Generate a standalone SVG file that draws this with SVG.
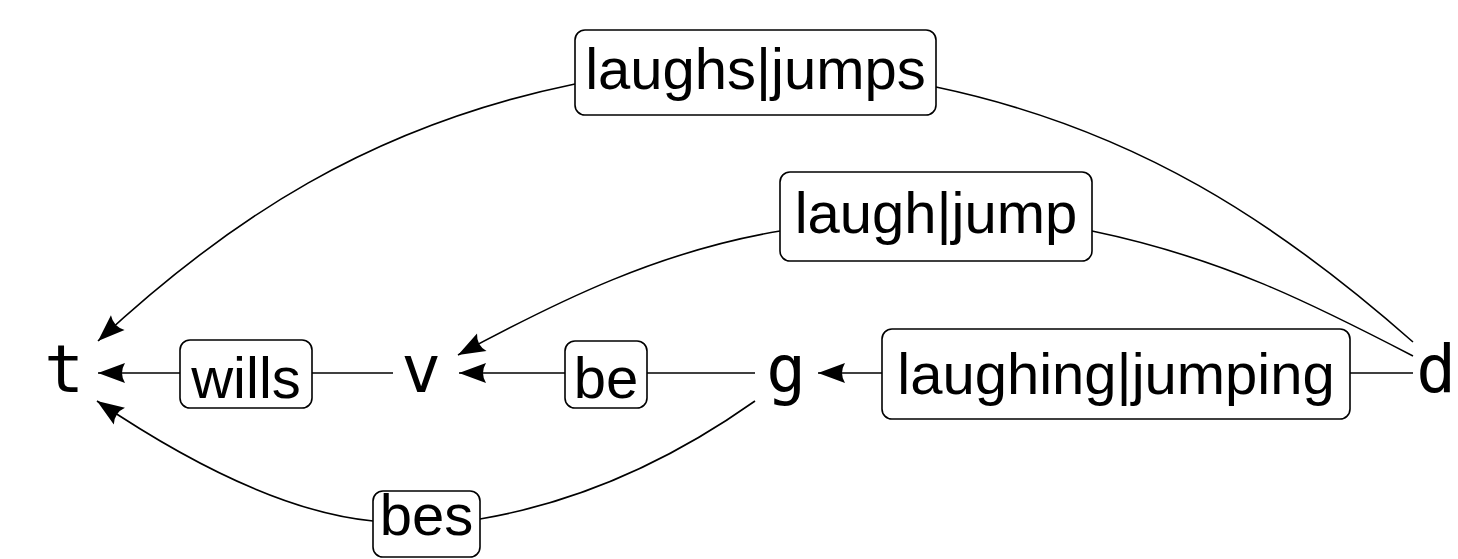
<svg xmlns="http://www.w3.org/2000/svg" width="1458" height="559" viewBox="0 0 1458 559">
<style>
.node{font-family:"DejaVu Sans Mono","Liberation Mono",monospace;font-size:66px;fill:#000;text-anchor:middle}
.lbl{font-family:"Liberation Sans",Arial,sans-serif;font-size:58px;fill:#000;text-anchor:middle}
.box{fill:#fff;stroke:#000;stroke-width:1.6}
.edge{fill:none;stroke:#000;stroke-width:1.6}
</style>
<defs>
<marker id="arr" markerUnits="userSpaceOnUse" markerWidth="34" markerHeight="28" viewBox="-30 -14 34 28" refX="0" refY="0" orient="auto">
<path d="M0,0 L-27,-10 Q-21,0 -27,10 Z" fill="#000"/>
</marker>
</defs>
<g id="connectors">
<path class="edge" d="M180,373 L98,373" marker-end="url(#arr)"/>
<path class="edge" d="M312,373 L393,373"/>
<path class="edge" d="M565,373 L459,373" marker-end="url(#arr)"/>
<path class="edge" d="M647,373 L755,373"/>
<path class="edge" d="M882,373 L818,373" marker-end="url(#arr)"/>
<path class="edge" d="M1350,373 L1413,373"/>
<path class="edge" d="M1413,342 C1278,223 1136,129 936,87"/>
<path class="edge" d="M575,84 C370,126 228,220 98,341" marker-end="url(#arr)"/>
<path class="edge" d="M1413,356 C1313,304 1222,258 1092,231"/>
<path class="edge" d="M780,231 C660,251 560,300 458,355" marker-end="url(#arr)"/>
<path class="edge" d="M755,401 C673,459 580,502 480,519"/>
<path class="edge" d="M373,521 C280,512 180,457 97,401" marker-end="url(#arr)"/>
</g>
<g id="node-t"><text class="node" x="64" y="392">t</text></g>
<g id="node-v"><text class="node" x="421" y="392">v</text></g>
<g id="node-g"><text class="node" x="786" y="392">g</text></g>
<g id="node-d"><text class="node" x="1436" y="392">d</text></g>
<g id="label-wills"><rect class="box" x="180" y="340" width="132" height="68" rx="10"/><text class="lbl" x="246" y="398">wills</text></g>
<g id="label-be"><rect class="box" x="565" y="341" width="82" height="67" rx="10"/><text class="lbl" x="606" y="398">be</text></g>
<g id="label-laughing"><rect class="box" x="882" y="329" width="468" height="90" rx="10"/><text class="lbl" x="1116" y="394">laughing|jumping</text></g>
<g id="label-laughs"><rect class="box" x="575" y="30" width="361" height="85" rx="10"/><text class="lbl" x="755.5" y="89">laughs|jumps</text></g>
<g id="label-laugh"><rect class="box" x="780" y="172" width="312" height="89" rx="10"/><text class="lbl" x="936" y="233">laugh|jump</text></g>
<g id="label-bes"><rect class="box" x="373" y="491" width="107" height="66" rx="10"/><text class="lbl" x="426.5" y="535">bes</text></g>
</svg>
